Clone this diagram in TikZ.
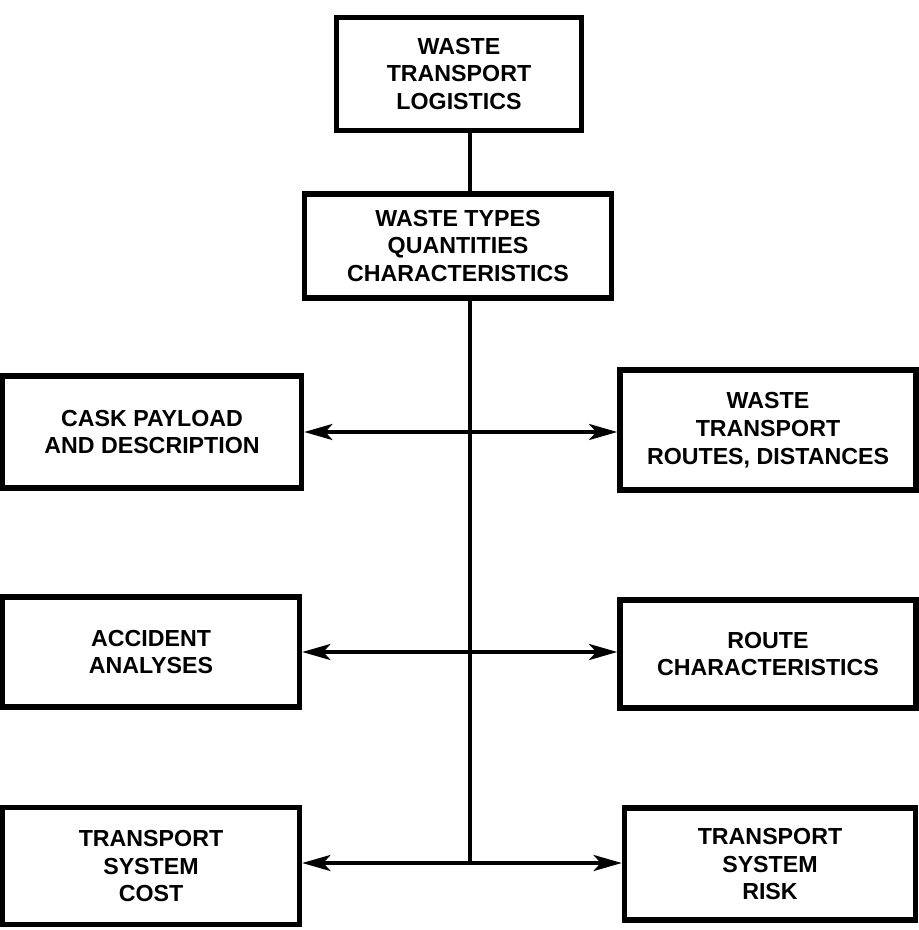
\documentclass[tikz,border=0pt]{standalone}
\usepackage{fontspec}
\setmainfont{Liberation Sans}
\usetikzlibrary{arrows.meta}
\begin{document}
\begin{tikzpicture}[x=0.01cm,y=-0.01cm,
    font=\fontsize{6.6}{7.9}\selectfont\bfseries]
    \useasboundingbox (0,0) rectangle (919,930);
    % boxes: name/x/y/width/height/text
    \foreach \n/\x/\y/\w/\h/\t in {
        log/459/74/245/113/{WASTE\\TRANSPORT\\LOGISTICS},
        types/458/246/307/104/{WASTE TYPES\\QUANTITIES\\CHARACTERISTICS},
        cask/152/432/299/112/{CASK PAYLOAD\\AND DESCRIPTION},
        routes/768/430/296/120/{WASTE\\TRANSPORT\\ROUTES, DISTANCES},
        accident/151/652/297/110/{ACCIDENT\\ANALYSES},
        routechar/768/654/296/108/{ROUTE\\CHARACTERISTICS},
        cost/151/866/297/117/{TRANSPORT\\SYSTEM\\COST},
        risk/770/864/291/112/{TRANSPORT\\SYSTEM\\RISK}}
        \node[draw=black, line width=1.5pt, inner sep=0pt, align=center,
              minimum width=\w*0.01cm, minimum height=\h*0.01cm] (\n) at (\x,\y) {\t};

    \coordinate (j) at (470,863);
    \draw [draw=black,-,line width=1.3pt] (log.south -| j) to (types.north -| j);
    \draw [draw=black,-,line width=1.3pt] (types.south -| j) to (j);

    \foreach \l/\r in {cask/routes, accident/routechar}
        \draw [draw=black,{Stealth[length=8pt,width=4.5pt,inset=2pt]}-{Stealth[length=8pt,width=4.5pt,inset=2pt]},line width=1.3pt]
            (\l.east) to (\l.east -| \r.west);
    \draw [draw=black,{Stealth[length=8pt,width=4.5pt,inset=2pt]}-{Stealth[length=8pt,width=4.5pt,inset=2pt]},line width=1.3pt]
        (cost.east |- j) to (risk.west |- j);
\end{tikzpicture}
\end{document}
